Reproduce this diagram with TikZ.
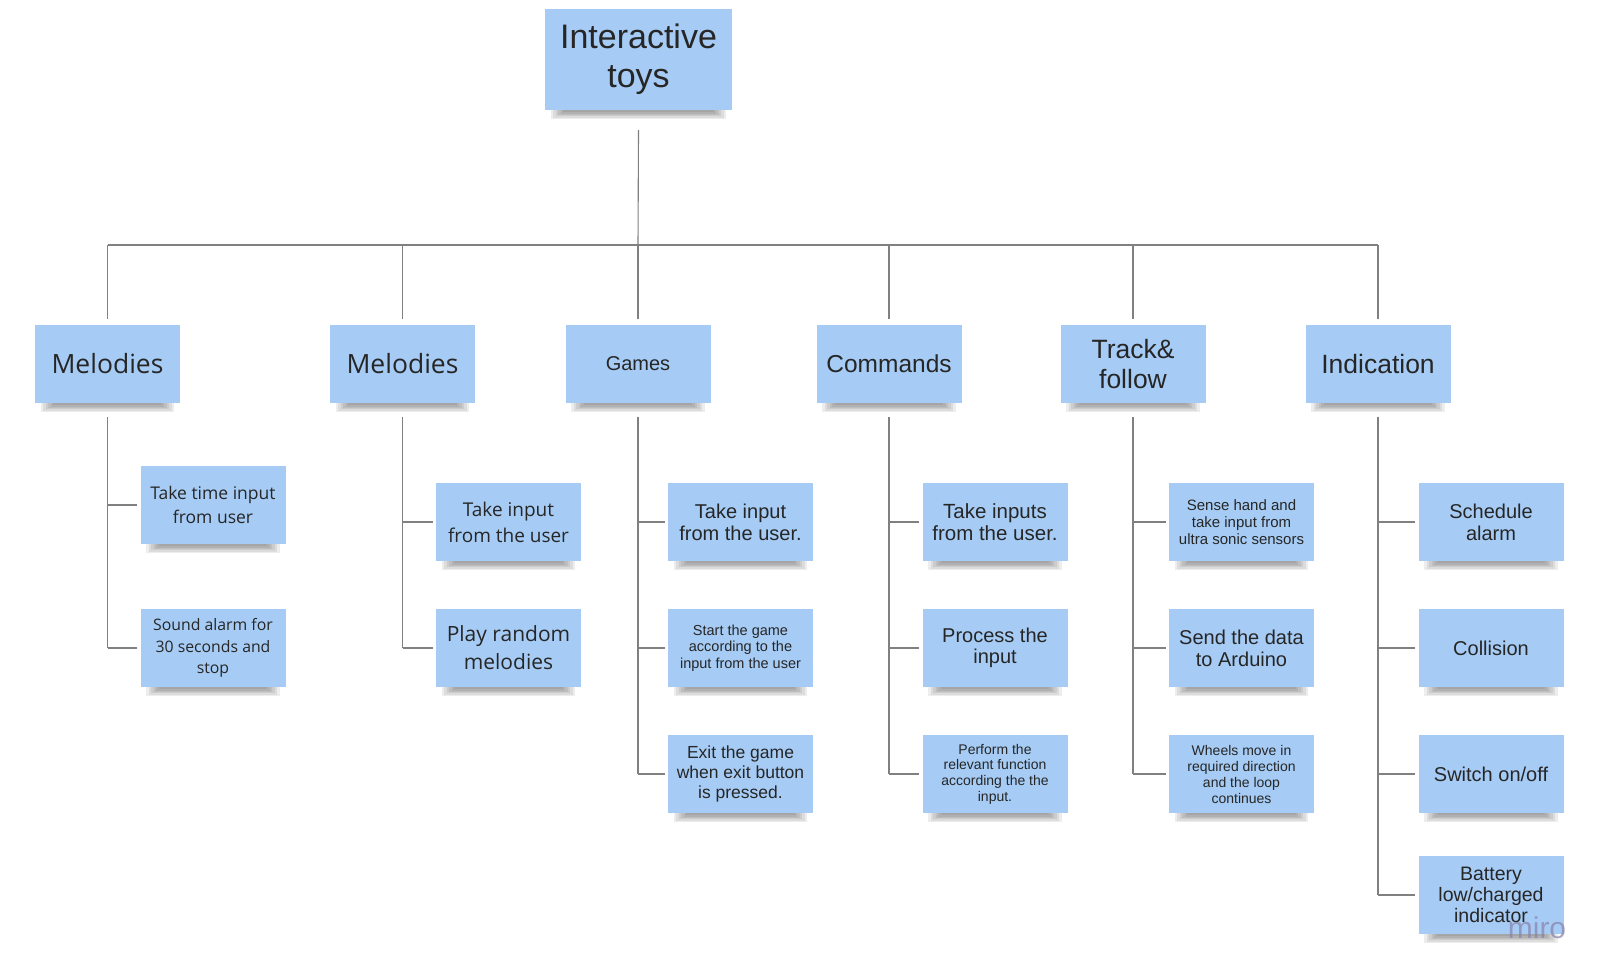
\documentclass[tikz,border=0pt]{standalone}
\usepackage{fontspec}
\setmainfont{Liberation Sans}
\newfontfamily\opensans{Open Sans}
\usetikzlibrary{positioning}
\definecolor{stickyblue}{HTML}{A6CCF5}
\definecolor{miromark}{RGB}{135,130,170}
\newcommand{\px}[2]{\fontsize{#1}{#2}\selectfont}
% soft shadow under a sticky note
\newcommand{\noteshadow}[1]{%
  \foreach \i in {0,...,5}
    \fill[black, opacity=.07] ([xshift={6pt+2.5pt*\i}]#1.south west)
      rectangle ([xshift={-6pt-2.5pt*\i}, yshift={-9pt+1.4pt*\i}]#1.south east);
}

\begin{document}
\begin{tikzpicture}[x=1pt, y=-1pt, node distance=126pt,
    note/.style={fill=stickyblue, text=black!85, align=center,
                 minimum width=145pt, minimum height=78pt, inner sep=2pt},
    wire/.style={draw=black!50, line width=1.1pt}]
  \useasboundingbox (0,0) rectangle (1602,974);

  \node[note, minimum width=187pt, minimum height=101pt, font=\px{34}{39}] (root) at (638.5,59.5) {Interactive\\toys};

  % first level
  \node[note, font=\opensans\px{26.5}{30}] (mel1) at (107.5,364) {Melodies};
  \node[note, font=\opensans\px{26.5}{30}] (mel2) at (402.5,364) {Melodies};
  \node[note, font=\px{20}{22}] (games) at (638,364) {Games};
  \node[note, font=\px{24.5}{28}] (cmd) at (889,364) {Commands};
  \node[note, font=\px{26.5}{30}] (track) at (1133,364) {Track\&\\follow};
  \node[note, font=\px{26.5}{30}] (ind) at (1378,364) {Indication};

  % melodies
  \node[note, font=\opensans\px{17.5}{24}] (mel1a) at (213,505) {Take time input\\from user};
  \node[note, font=\opensans\px{15.8}{21.7}] (mel1b) at (213,648) {Sound alarm for\\30 seconds and\\stop};
  \node[note, font=\opensans\px{19}{26}] (mel2a) at (508.5,522) {Take input\\from the user};
  \node[note, font=\opensans\px{21}{28}] (mel2b) [below of=mel2a] {Play random\\melodies};

  % games
  \node[note, font=\px{20}{22}] (games1) at (740.5,522) {Take input\\from the user.};
  \node[note, font=\px{14.5}{16.7}] (games2) [below of=games1] {Start the game\\according to the\\input from the user};
  \node[note, font=\px{17.5}{20}] (games3) [below of=games2] {Exit the game\\when exit button\\is pressed.};

  % commands
  \node[note, font=\px{20.5}{22}] (cmd1) at (995,522) {Take inputs\\from the user.};
  \node[note, font=\px{20}{21}] (cmd2) [below of=cmd1] {Process the\\input};
  \node[note, font=\px{14}{15.7}] (cmd3) [below of=cmd2] {Perform the\\relevant function\\according the the\\input.};

  % track & follow
  \node[note, font=\px{15}{17}] (track1) at (1241.5,522) {Sense hand and\\take input from\\ultra sonic sensors};
  \node[note, font=\px{20}{22}] (track2) [below of=track1] {Send the data\\to Arduino};
  \node[note, font=\px{14}{16}] (track3) [below of=track2] {Wheels move in\\required direction\\and the loop\\continues};

  % indication
  \node[note, font=\px{20}{22}] (ind1) at (1491,522) {Schedule\\alarm};
  \node[note, font=\px{20}{22}] (ind2) [below of=ind1] {Collision};
  \node[note, font=\px{20}{22}] (ind3) [below of=ind2] {Switch on/off};
  \node[note, font=\px{19.5}{21}] (ind4) at (1491,895) {Battery\\low/charged\\indicator};

  \foreach \n in {root, mel1, mel2, games, cmd, track, ind, mel1a, mel1b, mel2a, mel2b,
                  games1, games2, games3, cmd1, cmd2, cmd3, track1, track2, track3,
                  ind1, ind2, ind3, ind4}
    {\noteshadow{\n}}

  % tree lines
  \coordinate (bus) at (638,245);
  \draw[wire] ([yshift=-20pt]root.south) -- (bus);
  \draw[wire] (mel1 |- bus) -- (ind |- bus);
  \foreach \n in {mel1, mel2, games, cmd, track, ind}
    \draw[wire] (\n |- bus) -- ([yshift=6pt]\n.north);

  \foreach \p/\c in {mel1/mel1b, mel2/mel2b, games/games3, cmd/cmd3, track/track3, ind/ind4}
    \draw[wire] ([yshift=-14pt]\p.south) -- (\p |- \c.west);
  \foreach \p/\c in {mel1/mel1a, mel1/mel1b, mel2/mel2a, mel2/mel2b,
                     games/games1, games/games2, games/games3, cmd/cmd1, cmd/cmd2, cmd/cmd3,
                     track/track1, track/track2, track/track3,
                     ind/ind1, ind/ind2, ind/ind3, ind/ind4}
    \draw[wire] (\p |- \c.west) -- ([xshift=-3pt]\c.west);

  \node[text=miromark, opacity=.7, font=\px{30}{30}] (miro) at (1537,928) {miro};
\end{tikzpicture}
\end{document}
